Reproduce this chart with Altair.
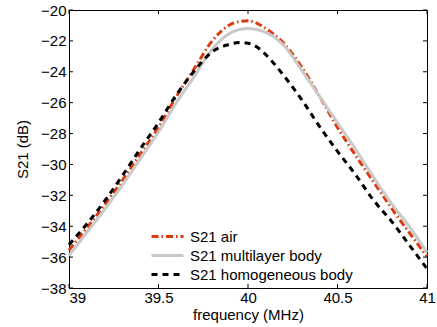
import altair as alt
import pandas as pd

# ---- data ----
freq = [39.0, 39.1, 39.2, 39.3, 39.4, 39.5, 39.6, 39.7, 39.8, 39.9, 39.95,
        40.0, 40.05, 40.1, 40.2, 40.3, 40.4, 40.5, 40.6, 40.7, 40.8, 40.9, 41.0]
s21_air = [-35.55, -34.1, -32.6, -31.0, -29.3, -27.6, -25.6, -23.8, -22.0, -20.95, -20.75,
           -20.7, -20.86, -21.2, -22.16, -23.7, -25.6, -27.6, -29.4, -31.1, -32.8, -34.4, -35.95]
s21_multilayer = [-35.9, -34.4, -32.9, -31.3, -29.6, -27.9, -26.0, -24.3, -22.55, -21.5, -21.27,
                  -21.2, -21.27, -21.45, -22.3, -23.9, -25.6, -27.3, -29.0, -30.8, -32.5, -34.0, -35.7]
s21_homog = [-35.2, -33.85, -32.35, -30.7, -28.96, -27.3, -25.5, -23.95, -22.7, -22.22, -22.1,
             -22.15, -22.4, -22.9, -24.25, -25.8, -27.55, -29.15, -30.65, -32.3, -33.65, -35.2, -36.75]
series_names = ["S21 air", "S21 multilayer body", "S21 homogeneous body"]
x_ticks = [39, 39.5, 40, 40.5, 41]
y_ticks = [-38, -36, -34, -32, -30, -28, -26, -24, -22, -20]

colors = ["#dc3a0e", "#c9c9c9", "#000000"]
dashes = [[7, 3, 1.5, 3], [1, 0], [6, 5]]

rows = []
for name, vals in zip(series_names, [s21_air, s21_multilayer, s21_homog]):
    for f, v in zip(freq, vals):
        rows.append({"freq": f, "s21": v, "series": name})
df = pd.DataFrame(rows)

W, H = 358, 278
FONT = "Liberation Sans"

xscale = alt.Scale(domain=[39, 41], nice=False, zero=False)
yscale = alt.Scale(domain=[-38, -20], nice=False, zero=False)

x_axis = alt.Axis(values=x_ticks, format="~g", title="frequency (MHz)",
                  ticks=False, tickSize=0, domain=False, grid=False,
                  labelOverlap=False, labelFlush=False, labelPadding=2, titlePadding=2,
                  labelAlign={"condition": {"test": "datum.value <= 39", "value": "left"},
                              "value": "center"})
y_axis = alt.Axis(values=y_ticks, format="~g", title="S21 (dB)",
                  ticks=False, tickSize=0, domain=False, grid=False,
                  labelOverlap=False, labelFlush=False, labelPadding=3, titlePadding=10)

legend = alt.Legend(
    title=None, orient="none", legendX=91, legendY=219,
    symbolType="M-4,0H4", symbolSize=64, symbolStrokeWidth=3,
    labelFontSize=15, labelFont=FONT, labelColor="black", labelOffset=15,
    padding=0, rowPadding=3, labelLimit=300,
)

lines = alt.Chart(df).mark_line(strokeWidth=3, interpolate="monotone").encode(
    x=alt.X("freq:Q", scale=xscale, axis=x_axis, title="frequency (MHz)"),
    y=alt.Y("s21:Q", scale=yscale, axis=y_axis, title="S21 (dB)"),
    color=alt.Color("series:N", sort=series_names,
                    scale=alt.Scale(domain=series_names, range=colors), legend=legend),
    strokeDash=alt.StrokeDash("series:N", sort=series_names,
                              scale=alt.Scale(domain=series_names, range=dashes), legend=legend),
    order=alt.Order("idx:Q"),
).transform_calculate(idx="indexof(" + str(series_names) + ", datum.series)")

xt = pd.DataFrame({"xt": x_ticks})
yt = pd.DataFrame({"yt": y_ticks})
tick_style = dict(color="black", strokeWidth=1)

xb = alt.Chart(xt).mark_rule(**tick_style).encode(
    x=alt.X("xt:Q", scale=xscale, axis=x_axis, title="frequency (MHz)"), y=alt.value(H), y2=alt.value(H - 4))
xtop = alt.Chart(xt).mark_rule(**tick_style).encode(
    x=alt.X("xt:Q", scale=xscale, axis=x_axis, title="frequency (MHz)"), y=alt.value(0), y2=alt.value(4))
yl = alt.Chart(yt).mark_rule(**tick_style).encode(
    y=alt.Y("yt:Q", scale=yscale, axis=y_axis, title="S21 (dB)"), x=alt.value(0), x2=alt.value(4))
yr = alt.Chart(yt).mark_rule(**tick_style).encode(
    y=alt.Y("yt:Q", scale=yscale, axis=y_axis, title="S21 (dB)"), x=alt.value(W), x2=alt.value(W - 4))

chart = alt.layer(lines, xb, xtop, yl, yr).properties(
    width=W, height=H,
    autosize=alt.AutoSizeParams(type="none"),
    padding={"left": 69, "top": 10, "right": 10, "bottom": 39},
    background="white",
).configure_view(
    stroke="black", strokeWidth=1
).configure_axis(
    labelFont=FONT, labelFontSize=15, labelColor="black",
    titleFont=FONT, titleFontSize=15, titleFontWeight="normal", titleColor="black",
)

chart.save("out.html", embed_options={"renderer": "svg", "actions": False})
